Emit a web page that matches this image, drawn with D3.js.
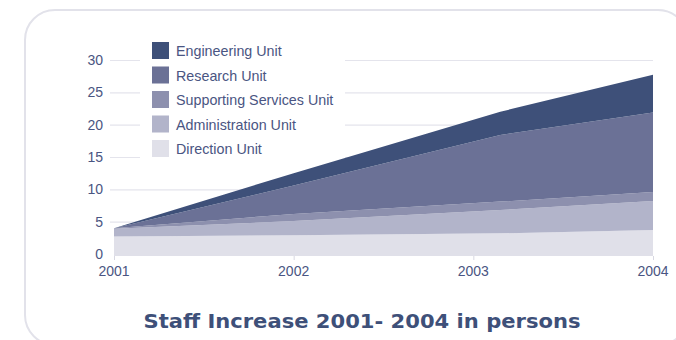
<!DOCTYPE html>
<html>
<head>
<meta charset="utf-8">
<script src="https://cdn.jsdelivr.net/npm/d3@7"></script>
<style>
  body { margin: 0; background: #fff; }
  svg { display: block; font-family: "Liberation Sans", Arial, sans-serif; }
</style>
</head>
<body>
<div id="chart"></div>
<script>
// data (persons per unit)
var years = [2001, 2002, 2003.15, 2004];
var direction   = [2.7, 2.9, 3.2, 3.7];
var admin       = [1.2, 2.2, 3.6, 4.5];
var supporting  = [0.1, 1.1, 1.3, 1.4];
var research    = [0.0, 4.4, 10.3, 12.3];
var engineering = [0.0, 1.9, 3.6, 5.8];

var units = ["Direction Unit", "Administration Unit", "Supporting Services Unit", "Research Unit", "Engineering Unit"];
var unitValues = [direction, admin, supporting, research, engineering];
var colors = ["#e0e0e9", "#b2b4ca", "#8d90ae", "#6b7196", "#3e5079"];

var yTicks = [0, 5, 10, 15, 20, 25, 30];
var xTicks = [2001, 2002, 2003, 2004];
var title = "Staff Increase 2001- 2004 in persons";

(function() {
	var width = 676,
		height = 340;

	var svg = d3.select("#chart")
		.append("svg")
		.attr("width", width)
		.attr("height", height);

	// rounded frame, runs off the right and bottom edges
	svg.append("rect")
		.attr("x", 25).attr("y", 10)
		.attr("width", 663).attr("height", 335)
		.attr("rx", 30)
		.attr("fill", "none")
		.attr("stroke", "#e2e2ea")
		.attr("stroke-width", 2);

	var x = d3.scaleLinear().domain([2001, 2004]).range([114, 653]);
	var y = d3.scaleLinear().domain([0, 30]).range([254, 60]);

	// table for the stack
	var table = years.map(function(yr, i) {
		var row = { year: yr };
		units.forEach(function(u, k) { row[u] = unitValues[k][i]; });
		return row;
	});
	var series = d3.stack().keys(units)(table);

	// gridlines
	svg.append("g")
		.selectAll("line")
		.data(yTicks.filter(function(d) { return d > 0; }))
		.enter().append("line")
		.attr("x1", 110).attr("x2", x(2004))
		.attr("y1", function(d) { return y(d) + 0.5; })
		.attr("y2", function(d) { return y(d) + 0.5; })
		.attr("stroke", "#e4e4ec")
		.attr("stroke-width", 1.2);

	// legend background hides the gridlines behind it
	svg.append("rect")
		.attr("x", 140).attr("y", 36)
		.attr("width", 205).attr("height", 126)
		.attr("fill", "#fff");

	var area = d3.area()
		.x(function(d) { return x(d.data.year); })
		.y0(function(d) { return d[0] === 0 ? y(0) + 2 : y(d[0]); })
		.y1(function(d) { return y(d[1]); });

	svg.append("g")
		.selectAll("path")
		.data(series)
		.enter().append("path")
		.attr("d", area)
		.attr("fill", function(d, i) { return colors[i]; });

	// y labels
	svg.append("g")
		.selectAll("text")
		.data(yTicks)
		.enter().append("text")
		.attr("x", 103)
		.attr("y", function(d) { return y(d); })
		.attr("dy", "0.35em")
		.attr("text-anchor", "end")
		.attr("fill", "#4a5582")
		.style("font-size", "14px")
		.text(function(d) { return d; });

	// x axis ticks + labels
	var xg = svg.append("g");
	xg.selectAll("line")
		.data(xTicks)
		.enter().append("line")
		.attr("x1", function(d) { return x(d) + 0.5; })
		.attr("x2", function(d) { return x(d) + 0.5; })
		.attr("y1", y(0) + 2).attr("y2", y(0) + 6)
		.attr("stroke", "#d8d8e2");
	xg.selectAll("text")
		.data(xTicks)
		.enter().append("text")
		.attr("x", function(d) { return x(d); })
		.attr("y", 276)
		.attr("text-anchor", "middle")
		.attr("fill", "#4a5582")
		.style("font-size", "14px")
		.text(function(d) { return d; });

	// legend
	var order = units.slice().reverse();
	var items = svg.append("g").selectAll("g")
		.data(order)
		.enter().append("g")
		.attr("transform", function(d, i) { return "translate(152," + (42 + i * 24.5) + ")"; });
	items.append("rect")
		.attr("width", 17).attr("height", 17)
		.attr("fill", function(d) { return colors[units.indexOf(d)]; });
	items.append("text")
		.attr("x", 24).attr("y", 9)
		.attr("dy", "0.35em")
		.attr("fill", "#4a5582")
		.style("font-size", "14.3px")
		.text(function(d) { return d; });

	// title
	svg.append("text")
		.attr("x", 362).attr("y", 328)
		.attr("text-anchor", "middle")
		.attr("fill", "#3e5079")
		.style("font-family", "'DejaVu Sans', Verdana, sans-serif")
		.style("font-size", "20px")
		.style("font-weight", "bold")
		.attr("textLength", 437)
		.attr("lengthAdjust", "spacingAndGlyphs")
		.text(title);
})();
</script>
</body>
</html>
